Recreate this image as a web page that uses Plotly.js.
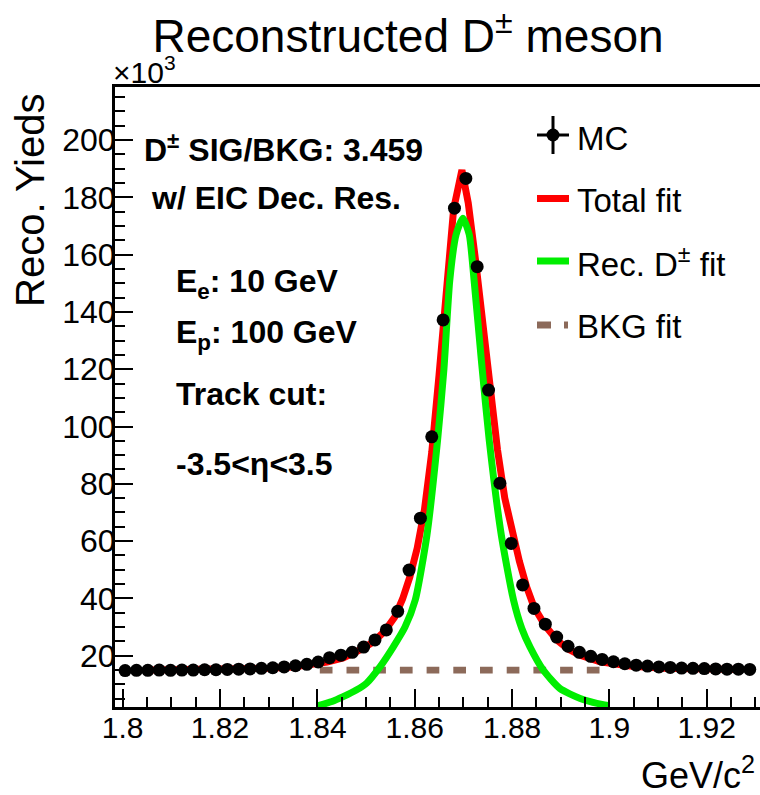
<!DOCTYPE html>
<html><head><meta charset="utf-8">
<script src="https://cdn.plot.ly/plotly-3.0.1.min.js"></script>
<style>body{margin:0;padding:0;background:#fff}#chart{width:760px;height:795px}</style>
</head><body><div id="chart"></div>
<script>
// MC histogram: bin centres (GeV/c^2) and yields (x10^3)
const mcMass = [1.798167,1.800500,1.802833,1.805167,1.807500,1.809833,1.812167,1.814500,1.816833,1.819167,
  1.821500,1.823833,1.826167,1.828500,1.830833,1.833167,1.835500,1.837833,1.840167,1.842500,
  1.844833,1.847167,1.849500,1.851833,1.854167,1.856500,1.858833,1.861167,1.863500,1.865833,
  1.868167,1.870500,1.872833,1.875167,1.877500,1.879833,1.882167,1.884500,1.886833,1.889167,
  1.891500,1.893833,1.896167,1.898500,1.900833,1.903167,1.905500,1.907833,1.910167,1.912500,
  1.914833,1.917167,1.919500,1.921833,1.924167,1.926500,1.928833,1.931167];
const mcYield = [14.8,14.8,14.9,14.9,15.0,14.9,15.0,15.0,15.1,15.1,
  15.2,15.3,15.4,15.6,15.8,16.1,16.5,17.0,17.8,19.3,
  20.2,21.2,23.0,25.5,29.0,35.5,49.9,68.0,96.4,137.2,
  176.2,186.6,155.8,112.7,80.2,59.2,44.7,36.5,31.0,26.5,
  23.3,21.2,19.8,18.7,17.9,17.2,16.7,16.4,16.1,15.9,
  15.7,15.6,15.5,15.4,15.3,15.3,15.2,15.2];
// Total fit curve
const totalMass = [1.806,1.815,1.825,1.830,1.835,1.8385,1.842,1.8453,1.8473,1.8495,1.8516,1.8538,1.8559,
  1.8575,1.8590,1.8605,1.8620,1.8635,1.8650,1.8665,1.8680,1.8697,1.8710,1.8725,1.8740,1.8755,1.8770,
  1.8785,1.8800,1.8815,1.8830,1.8845,1.8868,1.8892,1.8915,1.8940,1.8981,1.9042,1.911,1.920,1.9275];
const totalFit = [15.0,15.1,15.3,15.6,16.1,16.8,17.8,19.2,20.6,22.6,25.0,28.5,33.5,
  39.8,47.5,57.5,71,91,118,148,176,189.5,178,158,136,113,92,
  75,63,53,44,37,30.5,25.5,22.3,20.2,17.9,16.4,15.6,15.3,15.2];
// Signal (Rec. D) fit curve
const sigMass = [1.8400,1.8430,1.8453,1.8480,1.8501,1.8529,1.8556,1.8580,1.8601,1.8625,1.8647,1.8660,1.8672,
  1.8685,1.8699,1.8712,1.8722,1.8737,1.8753,1.8778,1.8803,1.8820,1.8837,1.8864,1.8898,1.8940,1.8990,1.9000];
const sigFit = [2.5,4.0,5.7,8.0,10.4,16.2,23.1,30,39.4,62,95.3,120,151,
  167,172.7,167,151,123,95.3,62,39.4,29.5,23,15,8.6,5.1,2.8,2.5];
// Background fit
const bkgMass = [1.8405,1.899];
const bkgFit = [15.0,15.0];
const xTicks = [1.8,1.82,1.84,1.86,1.88,1.9,1.92];
const xTickText = ['1.8','1.82','1.84','1.86','1.88','1.9','1.92'];
const yTicks = [20,40,60,80,100,120,140,160,180,200];

const FONT = 'Liberation Sans, Arial, Helvetica, sans-serif';
const L = 115, T = 87, W = 760, H = 795, B = 88;
const PW = W - L, PH = H - T - B;
const X = px => (px - L) / PW;
const Y = py => (H - B - py) / PH;

const traces = [
  {x: totalMass, y: totalFit, mode: 'lines', line: {color: '#ff0000', width: 7}, hoverinfo: 'skip'},
  {x: bkgMass, y: bkgFit, mode: 'lines', line: {color: '#8c6a5a', width: 6.7, dash: '12.7px,14px'}, hoverinfo: 'skip'},
  {x: sigMass, y: sigFit, mode: 'lines', line: {color: '#00ee00', width: 7, shape: 'spline', smoothing: 0.6}, hoverinfo: 'skip'},
  {x: mcMass, y: mcYield, mode: 'markers', marker: {color: '#000', size: 13}, cliponaxis: false, hoverinfo: 'skip'}
];

const annotations = [
  {text: 'Reco. Yieds', x: X(30), y: Y(200), textangle: -90, font: {size: 40}},
  {text: 'GeV/c<sup>2</sup>', x: X(757), y: Y(773), xanchor: 'right', font: {size: 36}},
  {text: '×10<sup>3</sup>', x: X(111), y: Y(70), xanchor: 'left', font: {size: 30}},
  {text: '<b>D<sup>±</sup> SIG/BKG: 3.459</b>', x: X(142), y: Y(148), xanchor: 'left', font: {size: 32}},
  {text: '<b>w/ EIC Dec. Res.</b>', x: X(149), y: Y(198), xanchor: 'left', font: {size: 32}},
  {text: '<b>E<sub>e</sub>: 10 GeV</b>', x: X(174), y: Y(283), xanchor: 'left', font: {size: 32}},
  {text: '<b>E<sub>p</sub>: 100 GeV</b>', x: X(174), y: Y(334), xanchor: 'left', font: {size: 32}},
  {text: '<b>Track cut:</b>', x: X(174), y: Y(394), xanchor: 'left', font: {size: 32}},
  {text: '<b>-3.5&lt;η&lt;3.5</b>', x: X(174), y: Y(464), xanchor: 'left', font: {size: 32}},
  {text: 'MC', x: X(575), y: Y(138), xanchor: 'left', font: {size: 33}},
  {text: 'Total fit', x: X(575), y: Y(200), xanchor: 'left', font: {size: 33}},
  {text: 'Rec. D<sup>±</sup> fit', x: X(575), y: Y(262), xanchor: 'left', font: {size: 33}},
  {text: 'BKG fit', x: X(575), y: Y(326), xanchor: 'left', font: {size: 33}}
].map(a => Object.assign({xref: 'paper', yref: 'paper', showarrow: false, yanchor: 'middle', xanchor: 'center'}, a));

const shapes = [
  // MC legend symbol
  {type: 'line', x0: X(537), x1: X(569), y0: Y(135), y1: Y(135), line: {color: '#000', width: 3}},
  {type: 'line', x0: X(553), x1: X(553), y0: Y(116), y1: Y(154), line: {color: '#000', width: 3}},
  {type: 'circle', x0: X(546.5), x1: X(559.5), y0: Y(141.5), y1: Y(128.5), fillcolor: '#000', line: {width: 0}},
  // Total fit
  {type: 'line', x0: X(537), x1: X(569), y0: Y(198.5), y1: Y(198.5), line: {color: '#ff0000', width: 7}},
  // Signal fit
  {type: 'line', x0: X(537), x1: X(569), y0: Y(261), y1: Y(261), line: {color: '#00ee00', width: 7}},
  // BKG fit
  {type: 'line', x0: X(537), x1: X(551), y0: Y(325), y1: Y(325), line: {color: '#8c6a5a', width: 7}},
  {type: 'line', x0: X(564), x1: X(568), y0: Y(325), y1: Y(325), line: {color: '#8c6a5a', width: 7}}
].map(s => Object.assign({xref: 'paper', yref: 'paper'}, s));

const layout = {
  width: W, height: H,
  margin: {l: L, r: 0, t: T, b: B, pad: 0},
  paper_bgcolor: '#fff', plot_bgcolor: '#fff',
  font: {family: FONT, color: '#000'},
  showlegend: false,
  title: {text: 'Reconstructed D<sup>±</sup> meson', x: 408 / W, xanchor: 'center', y: 1 - 36 / H, yanchor: 'middle', font: {size: 46, family: FONT, color: '#000'}},
  xaxis: {
    range: [1.79842, 1.93094], tickvals: xTicks, ticktext: xTickText,
    ticks: 'inside', ticklen: 18, tickwidth: 2, tickcolor: '#000',
    minor: {dtick: 0.005, tick0: 1.8, ticks: 'inside', ticklen: 10, tickwidth: 2, tickcolor: '#000'},
    showline: true, linewidth: 3, linecolor: '#000', mirror: true,
    showgrid: false, zeroline: false, tickfont: {size: 30}, ticklabelstandoff: -8
  },
  yaxis: {
    range: [2.1, 218.5], tickvals: yTicks,
    ticks: 'inside', ticklen: 18, tickwidth: 2, tickcolor: '#000',
    minor: {dtick: 5, tick0: 0, ticks: 'inside', ticklen: 10, tickwidth: 2, tickcolor: '#000'},
    showline: true, linewidth: 3, linecolor: '#000', mirror: false,
    showgrid: false, zeroline: false, tickfont: {size: 32}, ticklabelstandoff: -10
  },
  annotations: annotations,
  shapes: shapes
};

Plotly.newPlot('chart', traces, layout, {displayModeBar: false, staticPlot: true});
</script>
</body></html>
